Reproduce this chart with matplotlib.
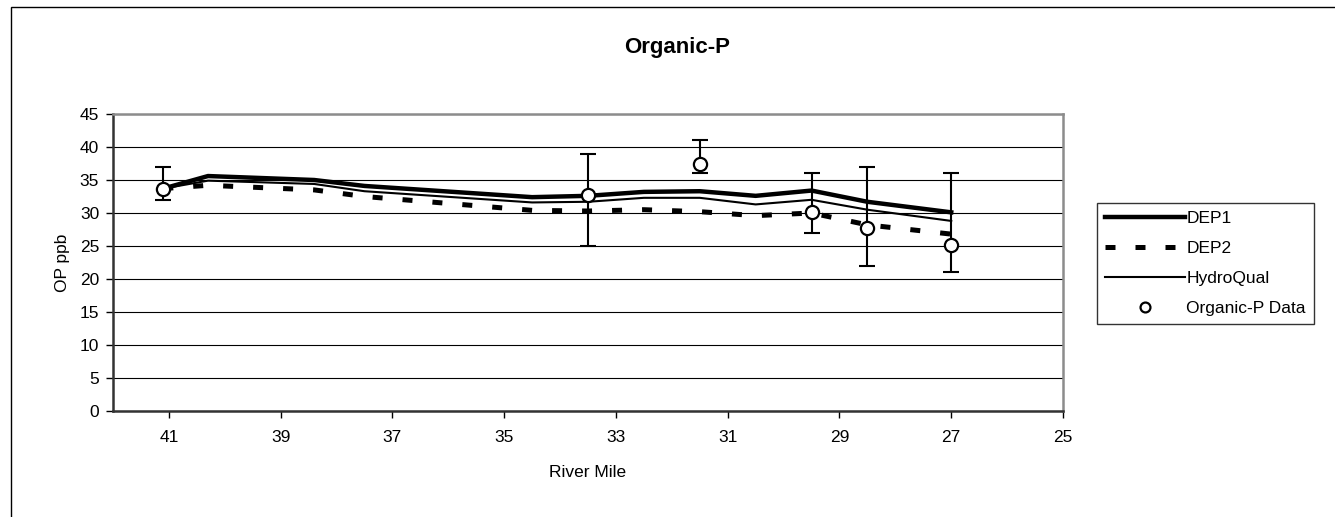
import matplotlib
matplotlib.use("Agg")
import matplotlib.pyplot as plt
from matplotlib.patches import Rectangle

plt.rcParams['font.family'] = ['Liberation Sans', 'DejaVu Sans']

# model runs along the river
model_mile = [41.1, 40.3, 38.4, 37.5, 34.5, 33.5, 32.5, 31.5, 30.5, 29.5, 28.5, 27.0]
dep1 = [33.7, 35.6, 35.0, 34.1, 32.4, 32.6, 33.2, 33.3, 32.6, 33.4, 31.7, 30.1]
dep2 = [33.7, 34.2, 33.5, 32.5, 30.4, 30.3, 30.5, 30.2, 29.6, 30.0, 28.2, 26.8]
hydroqual = [33.7, 34.9, 34.4, 33.3, 31.6, 31.7, 32.3, 32.3, 31.3, 32.0, 30.5, 28.8]

# observations
obs_mile = [41.1, 33.5, 31.5, 29.5, 28.5, 27.0]
obs_op = [33.6, 32.7, 37.4, 30.1, 27.8, 25.1]
obs_hi = [37.0, 39.0, 41.0, 36.0, 37.0, 36.0]
obs_lo = [32.0, 25.0, 36.0, 27.0, 22.0, 21.0]

xticks = [41, 39, 37, 35, 33, 31, 29, 27, 25]
yticks = [0, 5, 10, 15, 20, 25, 30, 35, 40, 45]

W, H = 1335, 517
fig = plt.figure(figsize=(W / 100, H / 100), dpi=100)
ax = fig.add_axes([113 / W, 1 - 411 / H, (1063 - 113) / W, (411 - 114) / H])

# outer chart border (cut off at right and bottom)
fig.patches.append(Rectangle((11 / W, -0.1), 1.2, 1 - 7 / H + 0.1,
                             transform=fig.transFigure, fill=False,
                             edgecolor='black', linewidth=1.0))

ax.plot(model_mile, dep1, color='black', lw=3.2, label='DEP1', zorder=3)
ax.plot(model_mile, dep2, color='black', lw=3.6, dashes=(2, 4),
        dash_capstyle='butt', label='DEP2', zorder=3)
ax.plot(model_mile, hydroqual, color='black', lw=1.5, label='HydroQual', zorder=3)

yerr = [[o - l for o, l in zip(obs_op, obs_lo)], [h - o for o, h in zip(obs_op, obs_hi)]]
ax.errorbar(obs_mile, obs_op, yerr=yerr, fmt='none', ecolor='black',
            elinewidth=1.5, capsize=5.5, capthick=1.5, zorder=4)
ax.plot(obs_mile, obs_op, linestyle='none', marker='o', markersize=9.5,
        markerfacecolor='white', markeredgecolor='black', markeredgewidth=1.6,
        label='Organic-P Data', zorder=5)

ax.set_xlim(42, 25)
ax.set_ylim(0, 45)
ax.set_xticks(xticks)
ax.set_yticks(yticks)
ax.tick_params(labelsize=12.5, direction='out', length=5, width=1, colors='black')
ax.tick_params(axis='x', pad=9)
ax.tick_params(axis='y', pad=5)
ax.grid(axis='y', color='black', linewidth=0.8)
ax.set_axisbelow(True)

for side in ['top', 'right']:
    ax.spines[side].set_color('#8c8c8c')
    ax.spines[side].set_linewidth(1.8)
for side in ['left', 'bottom']:
    ax.spines[side].set_color('#333333')
    ax.spines[side].set_linewidth(1.8)

ax.set_xlabel('River Mile', fontsize=12.5, labelpad=14)
ax.set_ylabel('OP ppb', fontsize=12.5, labelpad=7)
fig.text(677 / W, 1 - 48 / H, 'Organic-P', fontsize=16, fontweight='bold',
         ha='center', va='center')

leg = ax.legend(loc='upper left', bbox_to_anchor=(1097 / W, 1 - 203 / H),
                bbox_transform=fig.transFigure, borderaxespad=0,
                fontsize=12.5, frameon=True, fancybox=False, handlelength=4.6,
                handletextpad=0.1, labelspacing=0.85, borderpad=0.45,
                markerscale=0.75)
leg.get_frame().set_edgecolor('black')
leg.get_frame().set_linewidth(1.0)

fig.savefig('out.png', dpi=100)
